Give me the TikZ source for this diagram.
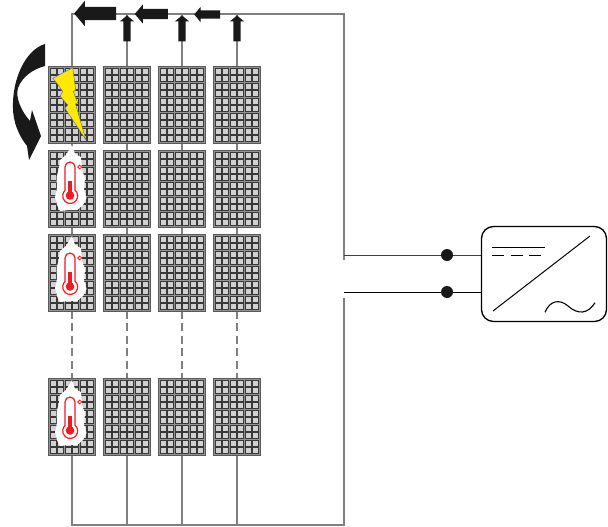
\documentclass[tikz,border=0pt]{standalone}
\usepackage{xcolor}
\usetikzlibrary{positioning, shapes.arrows}

\definecolor{wire}{HTML}{808080}
\definecolor{boltyellow}{HTML}{FFE900}
\definecolor{thermored}{HTML}{ED1C24}

\tikzset{
  panel/.style={draw=black!65, line width=1pt, fill=black!42, minimum width=47.5pt, minimum height=77.5pt, inner sep=0pt,
    path picture={
      \foreach \i in {0,...,5}
        \foreach \j in {0,...,9}
          \draw[draw=black!78, fill=black!18, line width=0.8pt]
            ([shift={(2.1+7.5*\i,2.1+7.5*\j)}]path picture bounding box.north west) rectangle +(5.8,5.8);
    }},
  wireline/.style={draw=wire, line width=1.4pt},
  flowarrow/.style={single arrow, fill=black!90, inner sep=0pt, single arrow tip angle=100},
  joint/.style={circle, fill=black!90, minimum size=12pt, inner sep=0pt},
  thermo/.pic={
    \fill[white] (0,-5) -- (3,4) -- (9,7) -- (10,20) -- (13,28) -- (12,40) -- (14.5,48) -- (11,55) -- (5,60) -- (-3,60) -- (-12,61) -- (-15,55) -- (-17,47) -- (-15,38) -- (-15.5,27) -- (-13,18) -- (-12,10) -- (-6,5) -- cycle;
    \draw[thermored, line width=1.2pt] (-7,40.2) -- (-7,17) arc (180:360:5) -- (3,40.2) arc (-50:230:7.5);
    \fill[thermored] (-2,45.5) circle (4.3);
    \fill[thermored] (-4.2,31) rectangle (0.2,45);
    \draw[thermored, line width=0.8pt] (7.7,17) circle (1.9);
  }
}

\begin{document}
\begin{tikzpicture}[x=1pt, y=-1pt]
  \useasboundingbox (0,0) rectangle (608,527);

  % panels
  \foreach \c/\x in {1/72,2/127,3/182,4/237}
    \foreach \r/\y in {1/105,2/189,3/273,4/417}
      \coordinate (m\c\r) at (\x,\y);

  \coordinate (tl) at (72,14);
  \coordinate (tr) at (344,14);
  \coordinate (tb) at (344,260);
  \coordinate (bl) at (72,525);
  \coordinate (br) at (344,525);
  \coordinate (bt) at (344,298);

  % wires
  \draw[wireline] (m11) -- (tl) -- (tr) -- (tb);
  \draw[wireline] (bt) -- (br) -- (bl) -- (m14);
  \foreach \c in {2,3,4} {
    \draw[wireline] (m\c1) -- (m\c1 |- tl);
    \draw[wireline] (m\c4) -- (m\c4 |- bl);
  }
  \foreach \c in {1,2,3,4} {
    \draw[wireline] (m\c1) -- (m\c3);
    \draw[wireline, dash pattern=on 8pt off 4.5pt] (m\c3) -- (m\c4);
  }

  \foreach \c in {1,2,3,4}
    \foreach \r in {1,2,3,4}
      \node[panel] (p\c\r) at (m\c\r) {};

  % inverter
  \node[draw, line width=1.3pt, rounded corners=12pt, minimum width=125pt, minimum height=95pt] (inv) at (544,274) {};
  \node[joint] (j1) at (447,255) {};
  \node[joint] (j2) at (447,292) {};
  \draw[draw=black!75, line width=0.9pt] (344,255) -- (j1) -- (j1 -| inv.west);
  \draw[line width=0.9pt] (344,292) -- (j2) -- (j2 -| inv.west);
  \draw[line width=1.3pt] (492,247.3) -- (545,247.3);
  \draw[line width=1.3pt, dash pattern=on 12pt off 6.5pt] (492,255.7) -- (545,255.7);
  \draw[line width=1pt] (493,311) -- (590,236);
  \draw[line width=1.1pt] (545,312.3) .. controls (550,300) and (560,299) .. (568,306) .. controls (578,315) and (588,314) .. (595,302.7);

  % current arrows
  \node[flowarrow, shape border rotate=180, minimum height=42pt, single arrow head extend=6pt] (fa1) at (98,13.5) {\rule{0pt}{13pt}};
  \node[flowarrow, shape border rotate=180, minimum height=33pt, single arrow head extend=4.5pt] (fa2) at (153.5,14) {\rule{0pt}{10pt}};
  \node[flowarrow, shape border rotate=180, minimum height=26pt, single arrow head extend=3.5pt] (fa3) at (209,14.5) {\rule{0pt}{8pt}};
  \foreach \c in {2,3,4}
    \node[flowarrow, shape border rotate=90, minimum height=26pt, single arrow head extend=3.5pt] (ua\c) at (m\c1 |- 0,30) {\rule{7pt}{0pt}};

  % hot spot
  \foreach \r/\y in {2/150,3/241,4/385}
    \pic (th\r) at (72,\y) {thermo};

  % fault
  \draw[draw=black!55, line width=0.5pt, fill=boltyellow] (52.7,78.3) -- (72.7,67.7) -- (75.7,90) -- (73.3,91.7) -- (77.7,103) -- (75.5,104) -- (86,140) -- (65,108.3) -- (67.7,105) -- (60,96) -- (62.7,91.7) -- (58.3,85) -- cycle;
  \fill[black!90] (45,44) .. controls (25,50) and (12,80) .. (13,108) .. controls (13,122) and (19,136) .. (27,146) -- (29,160) -- (41,136) -- (32,110) -- (30,121) .. controls (22,112) and (15,98) .. (18,88) .. controls (22,77) and (33,69) .. (45,66) -- cycle;
\end{tikzpicture}
\end{document}
